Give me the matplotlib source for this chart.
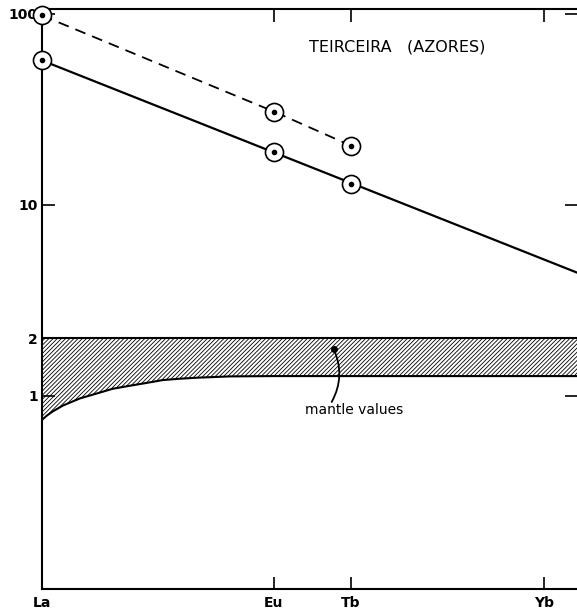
import matplotlib
matplotlib.use('Agg')
import matplotlib.pyplot as plt

plt.rcParams['font.family'] = ['DejaVu Sans']
plt.rcParams['hatch.linewidth'] = 0.6

# REE axis
elements = ['La', 'Eu', 'Tb', 'Yb']
atomic_no = [57, 63, 65, 70]

# Teirceira (Azores), chondrite-normalised
upper_x = [57, 63, 65]
upper_y = [98, 30.8, 20.4]
lower_x = [57, 63, 65]
lower_y = [57, 19.0, 12.9]

# straight trend through the lower set, carried on past Yb
trend_x = [57, 71]
trend_y = [57, 4.3]

# mantle field (lower edge, upper edge flat at 2)
mantle_x = [57.0, 57.13, 57.28, 57.54, 57.98, 58.42, 58.83, 59.27,
            59.71, 60.12, 60.56, 61.0, 61.85, 63.0, 66.0, 71.0]
mantle_low = [0.75, 0.79, 0.83, 0.89, 0.97, 1.03, 1.09, 1.13,
              1.17, 1.21, 1.23, 1.245, 1.265, 1.27, 1.27, 1.27]
mantle_high = 2.0

ytick_vals = [1, 2, 10, 100]
ytick_labels = ['1', '2', '10', '100']

fig = plt.figure(figsize=(5.77, 6.15), dpi=100)
ax = fig.add_axes([0.0728, 0.0423, 0.9272, 0.9431])
ax.set_yscale('log')
ax.set_xlim(57, 70.85)
ax.set_ylim(0.0976, 106)

# mantle band
ax.fill_between(mantle_x, mantle_low, mantle_high, facecolor='white',
                edgecolor='black', hatch='////////', linewidth=0)
ax.plot(mantle_x, mantle_low, color='black', lw=1.5)
ax.plot([57, 71], [mantle_high, mantle_high], color='black', lw=1.5)

# lines
ax.plot(trend_x, trend_y, color='black', lw=1.6)
ax.plot(upper_x, upper_y, color='black', lw=1.3, ls=(0, (6, 4)))

# circled points
for xs, ys in [(upper_x, upper_y), (lower_x, lower_y)]:
    ax.plot(xs, ys, ls='none', marker='o', ms=13, mfc='white',
            mec='black', mew=1.2, zorder=5, clip_on=False)
    ax.plot(xs, ys, ls='none', marker='o', ms=3, color='black',
            zorder=6, clip_on=False)

# labels
ax.text(66.2, 67, 'TEIRCEIRA   (AZORES)', ha='center', va='center',
        fontsize=11.5)
ax.text(65.07, 0.845, 'mantle values', ha='center', va='center',
        fontsize=10)
ax.annotate('', xy=(64.55, 1.76), xytext=(64.5, 0.93),
            arrowprops=dict(arrowstyle='-', color='black', lw=1.3,
                            connectionstyle='arc3,rad=0.25',
                            shrinkA=0, shrinkB=0))
ax.plot([64.55], [1.76], marker='o', ms=4, color='black')

# axes styling
ax.set_xticks(atomic_no)
ax.set_xticklabels(elements, fontsize=10, fontweight='bold')
ax.set_yticks(ytick_vals)
ax.set_yticklabels(ytick_labels, fontsize=10, fontweight='bold')
ax.minorticks_off()
ax.tick_params(direction='in', length=9, width=1.2, top=True, right=True)
ax.tick_params(axis='x', pad=5)
ax.tick_params(axis='y', pad=3)
ax.spines['right'].set_visible(False)
for s in ['left', 'bottom', 'top']:
    ax.spines[s].set_linewidth(1.5)

fig.savefig('out.png', dpi=100)
